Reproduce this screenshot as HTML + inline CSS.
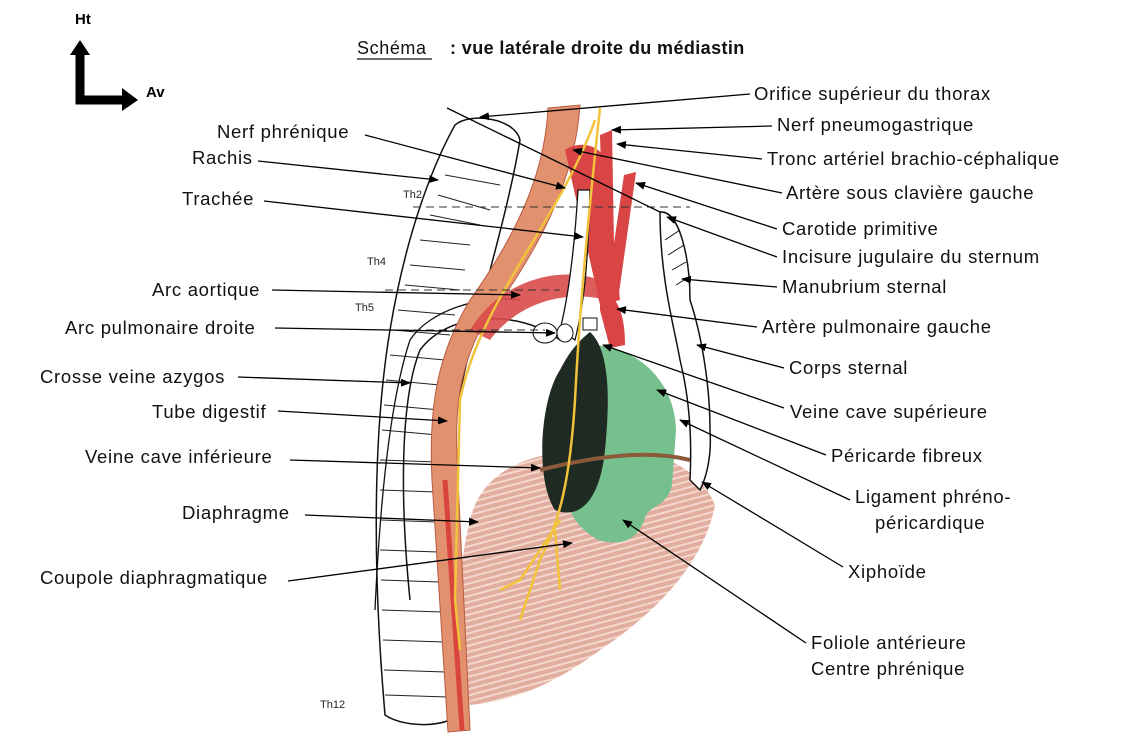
<!DOCTYPE html>
<html><head><meta charset="utf-8"><style>
html,body{margin:0;padding:0;background:#fff;}
svg{display:block;font-family:"Liberation Sans",Arial,sans-serif;}
.l{font-size:18.5px;fill:#111;letter-spacing:0.7px;}
.s{font-size:11px;fill:#222;}
</style></head><body>
<svg width="1131" height="744" viewBox="0 0 1131 744" xmlns="http://www.w3.org/2000/svg">
<defs>
<marker id="a" markerWidth="10" markerHeight="8" refX="9" refY="4" orient="auto" markerUnits="userSpaceOnUse">
<path d="M0,0 L10,4 L0,8 z" fill="#000"/></marker>
<pattern id="st" width="6" height="6" patternUnits="userSpaceOnUse" patternTransform="rotate(75)">
<rect width="6" height="6" fill="#dea493"/><rect width="2" height="6" fill="#f3d4c9"/></pattern>
</defs>

<text x="75" y="24" font-size="15" font-weight="bold">Ht</text>
<path d="M80,52 L80,100 L124,100" fill="none" stroke="#000" stroke-width="9"/>
<path d="M70,55 L80,40 L90,55 z" fill="#000"/>
<path d="M122,88 L138,100 L122,111 z" fill="#000"/>
<text x="146" y="97" font-size="15" font-weight="bold">Av</text>

<text x="357" y="54" font-size="18" fill="#111" letter-spacing="0.6">Schéma</text>
<line x1="357" y1="59" x2="432" y2="59" stroke="#111" stroke-width="1.2"/>
<text x="450" y="54" font-size="18" font-weight="bold" fill="#111" letter-spacing="0.4">: vue latérale droite du médiastin</text>

<path d="M470,520 C480,480 510,460 560,452 L640,450 C680,460 705,480 715,505 C705,560 660,610 600,650 C560,680 520,700 470,705 C455,660 455,580 470,520 z" fill="url(#st)" opacity="0.9"/>

<path d="M455,125 C470,112 515,118 520,140 C505,230 470,330 455,420 C440,520 440,620 450,720 C430,728 400,725 385,715 C375,600 370,450 390,330 C405,240 430,170 455,125 z" fill="#fff" stroke="#111" stroke-width="1.5"/>
<g stroke="#222" stroke-width="1">
<path d="M445,175 L500,185 M438,195 L490,210 M430,215 L480,225 M420,240 L470,245 M410,265 L465,270 M405,285 L460,290 M398,310 L455,315 M393,330 L450,335 M390,355 L445,360 M386,380 L440,385 M384,405 L440,410 M382,430 L438,435 M380,460 L437,462 M380,490 L436,492 M380,520 L437,522 M380,550 L438,552 M381,580 L440,582 M382,610 L442,612 M383,640 L444,642 M384,670 L446,672 M385,695 L448,697"/>
</g>
<path d="M410,600 C400,500 400,400 420,350 C450,310 520,310 560,340" fill="none" stroke="#111" stroke-width="1.5"/>
<path d="M375,610 C380,500 390,400 410,340 C430,310 480,295 520,300" fill="none" stroke="#111" stroke-width="1.3"/>

<path d="M548,108 L580,105 C575,180 540,250 480,330 C455,380 455,420 458,480 L470,730 L448,732 L432,480 C428,400 440,350 470,300 C520,230 545,170 548,108 z" fill="#e2916e" stroke="#b85a40" stroke-width="1"/>
<path d="M445,480 L462,730" stroke="#d9443f" stroke-width="5" fill="none"/>
<path d="M470,330 C500,280 560,265 600,280 L605,300 C570,290 520,300 490,340 z" fill="#d94a4a" opacity="0.9"/>
<path d="M565,150 C580,140 600,145 605,160 L620,300 L600,305 z" fill="#d94444"/>
<path d="M600,135 L612,130 L615,300 L605,300 z" fill="#d94444"/>
<path d="M624,175 L636,172 L618,300 L606,298 z" fill="#d94444"/>
<path d="M600,290 C620,295 625,320 625,345 L610,348 L600,310 z" fill="#d94444"/>
<path d="M578,190 L590,190 C588,260 585,300 575,340 L560,330 C570,290 575,240 578,190 z" fill="#fff" stroke="#111" stroke-width="1.3"/>
<ellipse cx="545" cy="333" rx="12" ry="10" fill="#fff" stroke="#111"/>
<ellipse cx="565" cy="333" rx="8" ry="9" fill="#fff" stroke="#111"/>
<rect x="583" y="318" width="14" height="12" fill="#fff" stroke="#111"/>

<path d="M590,345 C635,345 675,380 676,430 L672,485 C668,505 652,505 646,515 C640,535 628,548 598,540 C568,522 560,500 570,450 C575,400 580,360 590,345 z" fill="#76c08d"/>
<path d="M590,332 C610,350 610,400 605,450 C600,500 580,520 555,510 C535,480 540,400 560,370 C570,350 580,340 590,332 z" fill="#1e2a22"/>
<path d="M540,470 C600,455 650,450 690,460" stroke="#8a5a3a" stroke-width="4" fill="none"/>

<path d="M660,212 C680,210 690,260 690,300 C700,330 710,380 710,430 C712,460 705,480 700,490 L690,480 C692,440 690,400 680,360 C675,330 660,280 660,212 z" fill="#fff" stroke="#111" stroke-width="1.5"/>
<g stroke="#111" stroke-width="1"><path d="M665,240 L680,230 M668,255 L684,245 M672,270 L686,262 M676,285 L689,277"/></g>

<path d="M600,108 C590,200 580,300 575,400 C570,480 560,520 540,560 L520,620" fill="none" stroke="#f2c23a" stroke-width="2.5"/>
<path d="M595,120 C560,220 480,300 460,400 L455,600 L460,650" fill="none" stroke="#f2c23a" stroke-width="2.5"/>
<path d="M560,520 L520,580 L500,590 M555,530 L560,590" fill="none" stroke="#f2c23a" stroke-width="2.5"/>

<g stroke="#333" stroke-width="1" stroke-dasharray="8,5">
<line x1="413" y1="207" x2="690" y2="207"/>
<line x1="385" y1="290" x2="560" y2="290"/>
<line x1="400" y1="330" x2="545" y2="330"/>
</g>
<text class="s" x="403" y="198">Th2</text>
<text class="s" x="367" y="265">Th4</text>
<text class="s" x="355" y="311">Th5</text>
<text class="s" x="320" y="708">Th12</text>

<g stroke="#000" stroke-width="1.3" fill="none" marker-end="url(#a)">
<line x1="365" y1="135" x2="565" y2="188"/>
<line x1="258" y1="161" x2="438" y2="180"/>
<line x1="264" y1="201" x2="583" y2="237"/>
<line x1="272" y1="290" x2="520" y2="295"/>
<line x1="275" y1="328" x2="555" y2="333"/>
<line x1="238" y1="377" x2="410" y2="383"/>
<line x1="278" y1="411" x2="447" y2="421"/>
<line x1="290" y1="460" x2="540" y2="468"/>
<line x1="305" y1="515" x2="478" y2="522"/>
<line x1="288" y1="581" x2="572" y2="543"/>
<line x1="750" y1="94" x2="480" y2="117"/>
<line x1="772" y1="126" x2="612" y2="130"/>
<line x1="762" y1="159" x2="617" y2="144"/>
<line x1="782" y1="193" x2="573" y2="150"/>
<line x1="777" y1="229" x2="636" y2="183"/>
<line x1="777" y1="257" x2="667" y2="217"/>
<line x1="777" y1="287" x2="682" y2="279"/>
<line x1="757" y1="327" x2="617" y2="309"/>
<line x1="784" y1="368" x2="697" y2="345"/>
<line x1="784" y1="408" x2="603" y2="345"/>
<line x1="826" y1="455" x2="657" y2="390"/>
<line x1="850" y1="500" x2="680" y2="420"/>
<line x1="843" y1="567" x2="702" y2="482"/>
<line x1="806" y1="643" x2="623" y2="520"/>
</g>
<line x1="447" y1="108" x2="660" y2="212" stroke="#000" stroke-width="1.3"/>

<g class="l">
<text x="217" y="138">Nerf phrénique</text>
<text x="192" y="164">Rachis</text>
<text x="182" y="205">Trachée</text>
<text x="152" y="296">Arc aortique</text>
<text x="65" y="334">Arc pulmonaire droite</text>
<text x="40" y="383">Crosse veine azygos</text>
<text x="152" y="418">Tube digestif</text>
<text x="85" y="463">Veine cave inférieure</text>
<text x="182" y="519">Diaphragme</text>
<text x="40" y="584">Coupole diaphragmatique</text>
<text x="754" y="100">Orifice supérieur du thorax</text>
<text x="777" y="131">Nerf pneumogastrique</text>
<text x="767" y="165">Tronc artériel brachio-céphalique</text>
<text x="786" y="199">Artère sous clavière gauche</text>
<text x="782" y="235">Carotide primitive</text>
<text x="782" y="263">Incisure jugulaire du sternum</text>
<text x="782" y="293">Manubrium sternal</text>
<text x="762" y="333">Artère pulmonaire gauche</text>
<text x="789" y="374">Corps sternal</text>
<text x="790" y="418">Veine cave supérieure</text>
<text x="831" y="462">Péricarde fibreux</text>
<text x="855" y="503">Ligament phréno-</text>
<text x="875" y="529">péricardique</text>
<text x="848" y="578">Xiphoïde</text>
<text x="811" y="649">Foliole antérieure</text>
<text x="811" y="675">Centre phrénique</text>
</g>
</svg>
</body></html>
